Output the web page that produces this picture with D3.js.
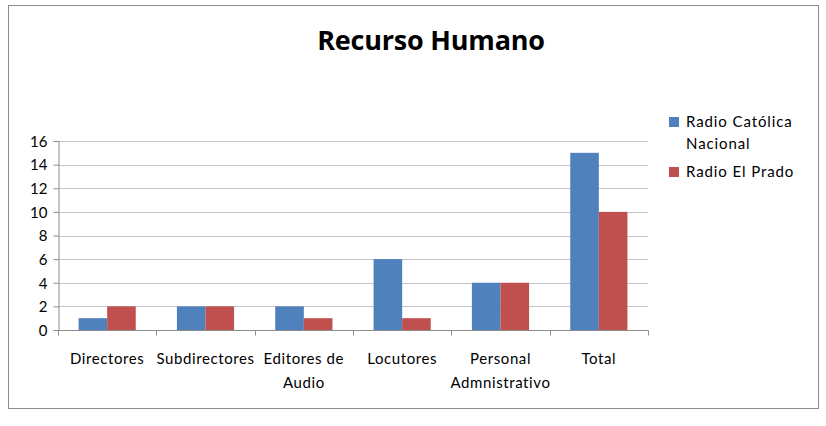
<!DOCTYPE html>
<html>
<head>
<meta charset="utf-8">
<script src="https://cdn.jsdelivr.net/npm/d3@7"></script>
<style>
  body { margin: 0; background: #fff; }
  text { font-family: Lato, "Open Sans", sans-serif; fill: #000; }
</style>
</head>
<body>
<svg id="chart" width="826" height="426"></svg>
<script>
const categories = [
    ["Directores"],
    ["Subdirectores"],
    ["Editores de", "Audio"],
    ["Locutores"],
    ["Personal", "Admnistrativo"],
    ["Total"]
];
const seriesNames = ["Radio Católica Nacional", "Radio El Prado"];
const catolica = [1, 2, 2, 6, 4, 15];
const elPrado = [2, 2, 1, 1, 4, 10];
const yTicks = [0, 2, 4, 6, 8, 10, 12, 14, 16];
const colors = ["#4f81bd", "#c0504d"];

const svg = d3.select("#chart");

// outer frame
svg.append("rect")
    .attr("x", 8.5).attr("y", 5.5)
    .attr("width", 810).attr("height", 403)
    .attr("fill", "#fff").attr("stroke", "#8c8c8c");

svg.append("text")
    .attr("x", 431).attr("y", 50)
    .attr("text-anchor", "middle")
    .style("font-family", "'Open Sans', sans-serif")
    .style("font-weight", "bold")
    .style("font-size", "27px")
    .style("letter-spacing", "-0.2px")
    .text("Recurso Humano");

const plotLeft = 58, plotRight = 648, plotTop = 141, plotBottom = 330;

const x = d3.scaleBand()
    .domain(d3.range(categories.length))
    .range([plotLeft, plotRight]);

const x1 = d3.scaleBand()
    .domain([0, 1])
    .range([0, x.bandwidth()])
    .paddingOuter(0.72)
    .paddingInner(0);

const y = d3.scaleLinear().domain([0, 16]).range([plotBottom, plotTop]);

// gridlines
svg.append("g")
    .selectAll("line")
    .data(yTicks.slice(1))
    .join("line")
    .attr("x1", plotLeft).attr("x2", plotRight)
    .attr("y1", d => Math.round(y(d)) + 0.5)
    .attr("y2", d => Math.round(y(d)) + 0.5)
    .attr("stroke", "#c4c4c4");

// bars
const data = categories.map((c, i) => [catolica[i], elPrado[i]]);
svg.append("g")
    .selectAll("g")
    .data(data)
    .join("g")
    .attr("transform", (d, i) => `translate(${x(i)},0)`)
    .selectAll("rect")
    .data(d => d)
    .join("rect")
    .attr("x", (d, j) => x1(j))
    .attr("width", x1.bandwidth())
    .attr("y", d => y(d))
    .attr("height", d => y(0) - y(d))
    .attr("fill", (d, j) => colors[j]);

// y axis
const yAxis = svg.append("g")
    .attr("transform", `translate(${plotLeft + 0.5},0)`)
    .call(d3.axisLeft(y).tickValues(yTicks).tickSize(5).tickPadding(6));
yAxis.select(".domain").attr("stroke", "#8c8c8c");
yAxis.selectAll(".tick line").attr("stroke", "#8c8c8c");
yAxis.selectAll(".tick text")
    .style("font-size", "15px")
    .style("font-family", "Lato, sans-serif")
    .attr("dy", "0.35em")
    .attr("fill", "#000");

// x axis
const xAxis = svg.append("g").attr("transform", `translate(0,${plotBottom + 0.5})`);
xAxis.append("line")
    .attr("x1", plotLeft).attr("x2", plotRight)
    .attr("stroke", "#8c8c8c");
xAxis.selectAll("line.tk")
    .data(d3.range(categories.length + 1))
    .join("line")
    .attr("class", "tk")
    .attr("x1", i => Math.round(plotLeft + i * x.bandwidth()) + 0.5)
    .attr("x2", i => Math.round(plotLeft + i * x.bandwidth()) + 0.5)
    .attr("y1", 0).attr("y2", 5)
    .attr("stroke", "#8c8c8c");

xAxis.selectAll("text")
    .data(categories)
    .join("text")
    .attr("text-anchor", "middle")
    .attr("transform", (d, i) => `translate(${x(i) + x.bandwidth() / 2},33)`)
    .style("font-size", "15px")
    .style("letter-spacing", "0.6px")
    .selectAll("tspan")
    .data(d => d)
    .join("tspan")
    .attr("x", 0)
    .attr("y", (d, k) => k * 24)
    .text(d => d);

// legend
const legendLines = [["Radio Católica", "Nacional"], ["Radio El Prado"]];
const lg = svg.append("g");
const lgY = [127, 177];
legendLines.forEach((lines, i) => {
    lg.append("rect")
        .attr("x", 669).attr("y", lgY[i] - 10)
        .attr("width", 10).attr("height", 10)
        .attr("fill", colors[i]);
    lg.append("text")
        .attr("x", 686).attr("y", lgY[i])
        .style("font-size", "15px")
        .style("letter-spacing", "0.9px")
        .selectAll("tspan")
        .data(lines)
        .join("tspan")
        .attr("x", 686)
        .attr("dy", (d, k) => k ? 22 : 0)
        .text(d => d);
});
</script>
</body>
</html>
